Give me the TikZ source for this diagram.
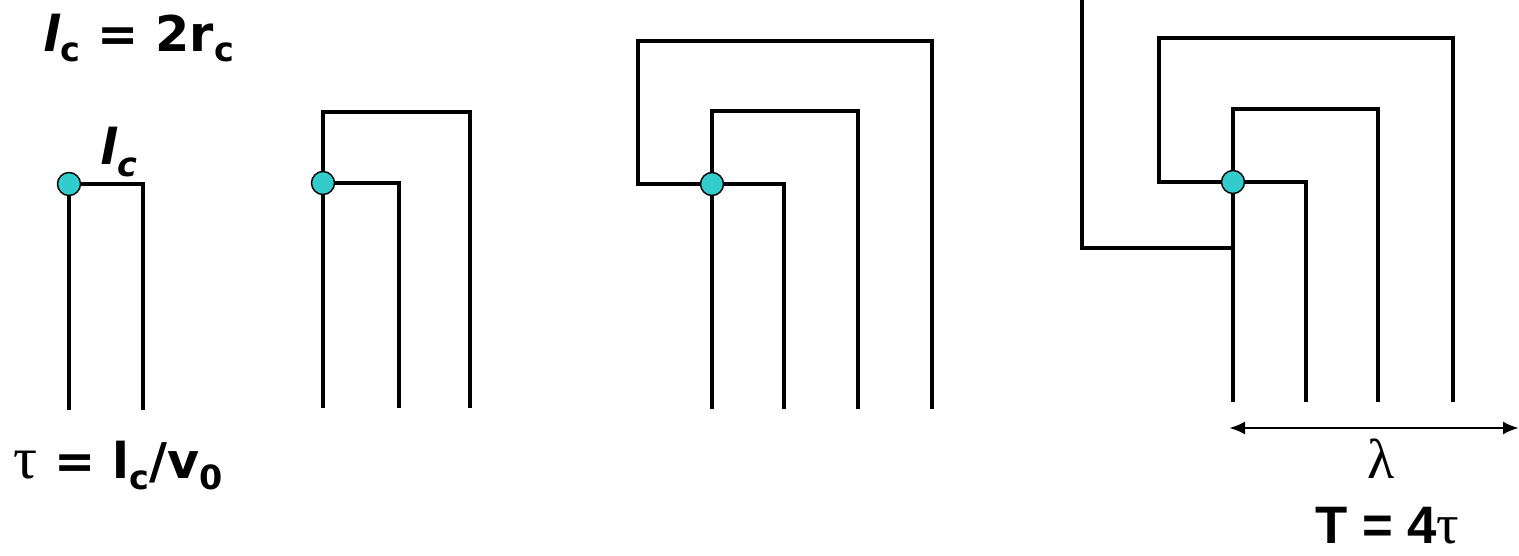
\documentclass[tikz,border=0pt]{standalone}
\usepackage{fontspec}
\usetikzlibrary{arrows.meta}
\setmainfont{DejaVu Sans}
\newfontfamily\arialfont{Liberation Sans}
\newfontfamily\serifgreek{Liberation Serif}

\definecolor{dotcyan}{RGB}{51,204,204}

\newcommand{\lowsub}[2]{\raisebox{-#2}{\fontsize{19}{19}\selectfont #1}}

\tikzset{
    wire/.style={line width=2.3pt},
    spot/.style={circle,draw,line width=0.8pt,fill=dotcyan,
        minimum size=0.46cm,inner sep=0pt},
    bigtext/.style={inner sep=0pt,font=\fontsize{28}{28}\selectfont\bfseries}
}

\begin{document}
\begin{tikzpicture}[x=1cm,y=1cm]
        \useasboundingbox (0,0) rectangle (30.38,11.10);

        % one step
        \coordinate (c1) at (1.38,7.42);
        \draw[wire] (1.38,2.90) -- (c1) -- (2.86,7.42) -- (2.86,2.90);
        \node[spot] (d1) at (c1) {};

        % two steps
        \coordinate (c2) at (6.46,7.44);
        \draw[wire] (6.46,2.94) -- (6.46,8.86) -- (9.40,8.86) -- (9.40,2.94);
        \draw[wire] (c2) -- (7.98,7.44) -- (7.98,2.94);
        \node[spot] (d2) at (c2) {};

        % three steps
        \coordinate (c3) at (14.24,7.42);
        \draw[wire] (c3) -- (12.76,7.42) -- (12.76,10.28)
            -- (18.64,10.28) -- (18.64,2.92);
        \draw[wire] (14.24,2.92) -- (14.24,8.88) -- (17.16,8.88) -- (17.16,2.92);
        \draw[wire] (c3) -- (15.68,7.42) -- (15.68,2.92);
        \node[spot] (d3) at (c3) {};

        % four steps
        \coordinate (c4) at (24.66,7.46);
        \draw[wire] (24.66,6.14) -- (21.64,6.14) -- (21.64,11.40);
        \draw[wire] (c4) -- (23.18,7.46) -- (23.18,10.34)
            -- (29.06,10.34) -- (29.06,3.06);
        \draw[wire] (24.66,3.06) -- (24.66,8.92) -- (27.56,8.92) -- (27.56,3.06);
        \draw[wire] (c4) -- (26.12,7.46) -- (26.12,3.06);
        \node[spot] (d4) at (c4) {};

        % wavelength
        \coordinate (lamL) at (24.58,2.54);
        \coordinate (lamR) at (30.38,2.54);
        \draw[{Latex[length=0.32cm,width=0.26cm]}-{Latex[length=0.32cm,width=0.26cm]},
            line width=1.5pt] (lamL) -- (lamR);
        \node[anchor=base,inner sep=0pt,font=\fontsize{32}{32}\selectfont\serifgreek]
            (lam) at (27.62,1.54) {λ};

        % labels
        \node[bigtext,anchor=base west] (lcdef) at (0.86,10.08)
            {{\itshape l}\lowsub{c}{6pt} = 2r\lowsub{c}{6pt}};
        \node[bigtext,anchor=base west] (lclab) at (2.00,7.82)
            {\itshape l\lowsub{c}{7pt}};
        \node[bigtext,anchor=base west] (taudef) at (0.26,1.54)
            {{\mdseries\fontsize{34}{34}\selectfont\serifgreek τ} = l\lowsub{c}{6.5pt}/v\lowsub{0}{6.5pt}};
        \node[inner sep=0pt,anchor=base west,font=\fontsize{30}{30}\selectfont\bfseries\arialfont]
            (period) at (26.30,0.24) {T = 4{\mdseries\fontsize{32}{32}\selectfont\serifgreek τ}};
\end{tikzpicture}
\end{document}
